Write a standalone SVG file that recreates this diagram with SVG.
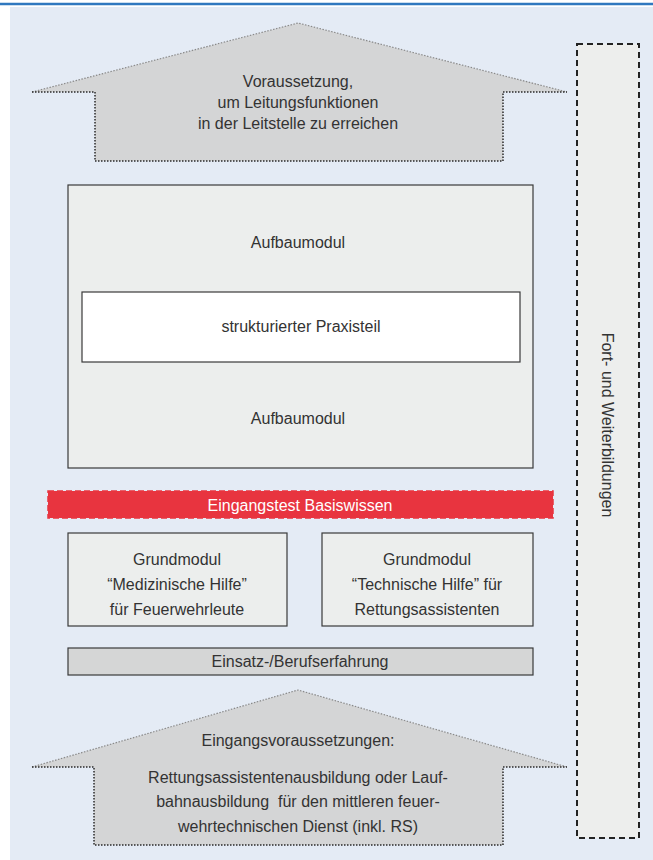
<svg xmlns="http://www.w3.org/2000/svg" width="653" height="860" viewBox="0 0 653 860">
<style>
text{font-family:"Liberation Sans",Arial,sans-serif;font-size:16px;fill:#333;text-anchor:middle}
.box{fill:#eceeed;stroke:#3a3a3a;stroke-width:1.2}
.gray{fill:#d5d6d6;stroke:#3a3a3a;stroke-width:1.2}
.arrowfill{fill:#d4d5d6}
.dot{fill:none;stroke:#2a2a2a;stroke-width:1.5;stroke-dasharray:1.5 1.5}
.diag{fill:none;stroke:#8a8a8a;stroke-width:1.2;stroke-dasharray:1.5 1.5}
</style>
<rect x="0" y="0" width="653" height="860" fill="#ffffff"/>
<line x1="0" y1="4" x2="653" y2="4" stroke="#2f78bf" stroke-width="2.5"/>
<rect x="10" y="7" width="643" height="853" fill="#e4ebf5"/>

<g id="top-arrow">
<polygon class="arrowfill" points="32,92 298,23 567,92 503,92 503,161 95,161 95,92"/>
<polyline class="diag" points="32,92 298,23 567,92"/>
<polyline class="dot" points="32,92 95,92 95,161 503,161 503,92 567,92"/>
<text x="298" y="87">Voraussetzung,</text>
<text x="298" y="108">um Leitungsfunktionen</text>
<text x="298" y="129">in der Leitstelle zu erreichen</text>
</g>

<g id="fortbildung">
<rect x="577" y="44" width="62" height="794" fill="#edeeed" stroke="#222" stroke-width="2" stroke-dasharray="6 4"/>
<text transform="translate(602,425) rotate(90)">Fort- und Weiterbildungen</text>
</g>

<g id="aufbau">
<rect class="box" x="68" y="185" width="465" height="283"/>
<text x="298" y="248">Aufbaumodul</text>
<text x="298" y="424">Aufbaumodul</text>
</g>

<g id="praxis">
<rect x="82" y="292" width="438" height="70" fill="#ffffff" stroke="#3a3a3a" stroke-width="1.2"/>
<text x="301" y="332">strukturierter Praxisteil</text>
</g>

<g id="eingangstest">
<rect x="48" y="491" width="505" height="27" fill="#e8343f" stroke="#e8343f" stroke-width="1.5" stroke-dasharray="6 3"/>
<text x="300" y="511" style="fill:#ffffff">Eingangstest Basiswissen</text>
</g>

<g id="grund-med">
<rect class="box" x="68" y="533" width="219" height="93"/>
<text x="177" y="565">Grundmodul</text>
<text x="177" y="590">“Medizinische Hilfe”</text>
<text x="177" y="615">für Feuerwehrleute</text>
</g>

<g id="grund-tech">
<rect class="box" x="322" y="533" width="211" height="93"/>
<text x="427" y="565">Grundmodul</text>
<text x="427" y="590">“Technische Hilfe” für</text>
<text x="427" y="615">Rettungsassistenten</text>
</g>

<g id="einsatz">
<rect class="gray" x="68" y="648" width="465" height="27"/>
<text x="300" y="667">Einsatz-/Berufserfahrung</text>
</g>

<g id="bottom-arrow">
<polygon class="arrowfill" points="32,767 298,690 567,767 503,767 503,845 94,845 94,767"/>
<polyline class="diag" points="32,767 298,690 567,767"/>
<polyline class="dot" points="32,767 94,767 94,845 503,845 503,767 567,767"/>
<text x="298" y="746">Eingangsvoraussetzungen:</text>
<text x="298" y="783">Rettungsassistentenausbildung oder Lauf-</text>
<text x="298" y="807" xml:space="preserve">bahnausbildung  für den mittleren feuer-</text>
<text x="298" y="832">wehrtechnischen Dienst (inkl. RS)</text>
</g>

<g id="connectors"></g>
</svg>
